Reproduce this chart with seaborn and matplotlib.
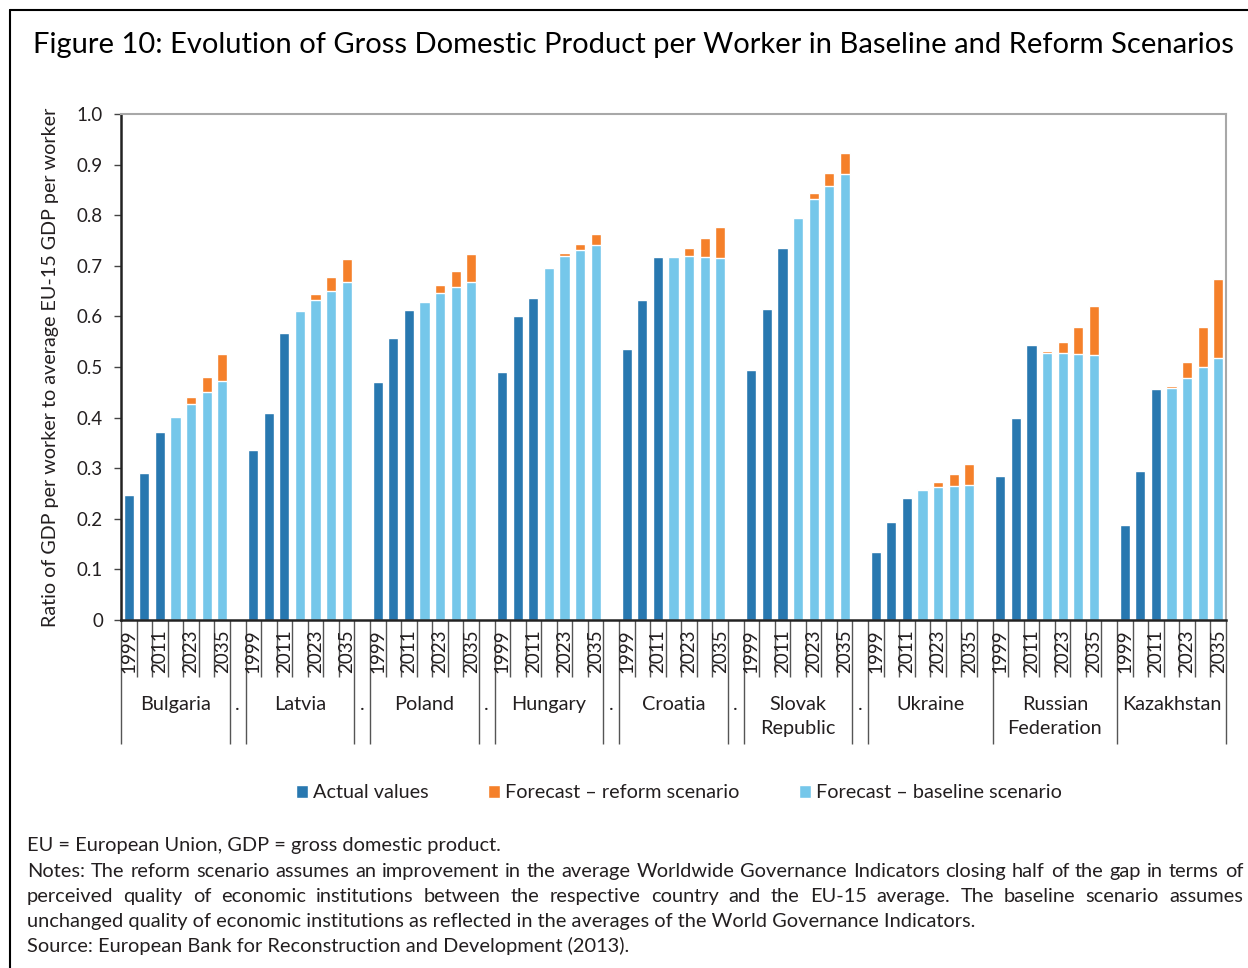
import numpy as np
import pandas as pd
import matplotlib
matplotlib.use("Agg")
import matplotlib.pyplot as plt
import seaborn as sns
from matplotlib.transforms import offset_copy
from matplotlib.lines import Line2D

# ---------------- data ----------------
countries = ["Bulgaria", "Latvia", "Poland", "Hungary", "Croatia",
             "Slovak\nRepublic", "Ukraine", "Russian\nFederation", "Kazakhstan"]
# slot after each country: "." labelled spacer, "" spacer merged in group, None = no spacer
gap_after = [".", ".", ".", ".", ".", ".", "", "", None]
years = [1999, 2005, 2011, 2017, 2023, 2029, 2035]
year_labels = ["1999", "", "2011", "", "2023", "", "2035"]
actual_years = [1999, 2005, 2011]
forecast_years = [2017, 2023, 2029, 2035]

actual_values = [
    [0.248, 0.290, 0.371],
    [0.336, 0.409, 0.567],
    [0.470, 0.557, 0.613],
    [0.491, 0.600, 0.636],
    [0.535, 0.632, 0.718],
    [0.494, 0.615, 0.735],
    [0.134, 0.193, 0.242],
    [0.284, 0.399, 0.544],
    [0.187, 0.294, 0.456],
]
baseline_values = [
    [0.401, 0.426, 0.450, 0.472],
    [0.610, 0.633, 0.651, 0.668],
    [0.628, 0.647, 0.658, 0.667],
    [0.695, 0.719, 0.731, 0.742],
    [0.718, 0.720, 0.717, 0.715],
    [0.794, 0.833, 0.857, 0.881],
    [0.256, 0.262, 0.265, 0.267],
    [0.528, 0.527, 0.525, 0.523],
    [0.459, 0.478, 0.500, 0.518],
]
reform_values = [
    [0.403, 0.441, 0.480, 0.525],
    [0.612, 0.644, 0.677, 0.713],
    [0.630, 0.662, 0.690, 0.724],
    [0.698, 0.726, 0.744, 0.762],
    [0.720, 0.735, 0.754, 0.777],
    [0.797, 0.844, 0.883, 0.922],
    [0.258, 0.273, 0.289, 0.308],
    [0.531, 0.550, 0.580, 0.620],
    [0.462, 0.509, 0.580, 0.673],
]
y_ticks = [0.0, 0.1, 0.2, 0.3, 0.4, 0.5, 0.6, 0.7, 0.8, 0.9, 1.0]
y_tick_labels = ["0", "0.1", "0.2", "0.3", "0.4", "0.5", "0.6", "0.7", "0.8", "0.9", "1.0"]

S_ACT = "Actual values"
S_REF = "Forecast \u2013 reform scenario"
S_BAS = "Forecast \u2013 baseline scenario"

title = "Figure 10: Evolution of Gross Domestic Product per Worker in Baseline and Reform Scenarios"
ylabel = "Ratio of GDP per worker to average EU-15 GDP per worker"
note_lines = [
    "EU = European Union, GDP = gross domestic product.",
    "Notes: The reform scenario assumes an improvement in the average Worldwide Governance Indicators closing half of the gap in terms of",
    "perceived quality of economic institutions between the respective country and the EU-15 average. The baseline scenario assumes",
    "unchanged quality of economic institutions as reflected in the averages of the World Governance Indicators.",
    "Source: European Bank for Reconstruction and Development (2013).",
]
justify = [False, True, True, False, False]

# ---------------- build slots ----------------
slots, groups = [], []
for i, c in enumerate(countries):
    start = len(slots)
    for y in years:
        slots.append(f"{c}|{y}")
    g = gap_after[i]
    if g is None:
        groups.append((c, start, len(slots) - 1))
    elif g == "":
        slots.append(f"gap{i}")
        groups.append((c, start, len(slots) - 1))
    else:
        groups.append((c, start, len(slots) - 1))
        slots.append(f"gap{i}")
        groups.append((g, len(slots) - 1, len(slots) - 1))

rows = []
for i, c in enumerate(countries):
    for y, v in zip(actual_years, actual_values[i]):
        rows.append(dict(slot=f"{c}|{y}", series=S_ACT, value=v))
    for y, b, r in zip(forecast_years, baseline_values[i], reform_values[i]):
        rows.append(dict(slot=f"{c}|{y}", series=S_BAS, value=b))
        rows.append(dict(slot=f"{c}|{y}", series=S_REF, value=r))
df = pd.DataFrame(rows)

# ---------------- style ----------------
sns.set_style("white")
plt.rcParams["font.family"] = ["Lato", "DejaVu Sans"]
TXT = "#231F20"
DARK = "#2878B0"
LIGHT = "#75C7EA"
ORANGE = "#F5802A"

W, H = 1248, 968
fig = plt.figure(figsize=(W / 100, H / 100), dpi=100)
ax = fig.add_axes([121 / W, 1 - 620 / H, (1226 - 121) / W, (620 - 114) / H])

for name, color in [(S_REF, ORANGE), (S_BAS, LIGHT), (S_ACT, DARK)]:
    sns.barplot(data=df[df.series == name], x="slot", y="value", order=slots,
                color=color, saturation=1, width=0.65, errorbar=None,
                label=name, ax=ax)
if ax.get_legend() is not None:
    ax.get_legend().remove()

ax.set_xlim(-0.5, len(slots) - 0.5)
ax.set_ylim(0, 1)
ax.set_yticks(y_ticks)
ax.set_yticklabels(y_tick_labels)
ax.set_xlabel("")
ax.set_ylabel(ylabel, fontsize=14.2, color=TXT, labelpad=13)
ax.tick_params(axis="y", direction="out", length=5, width=1, color="#444444",
               labelsize=13.5, labelcolor=TXT, pad=8, left=True)

# x axis ticks: long separators (major) and short slot ticks (minor)
seps = sorted({g[1] - 0.5 for g in groups} | {g[2] + 0.5 for g in groups})
ax.set_xticks(seps)
ax.set_xticks(np.arange(-0.5, len(slots)), minor=True)
ax.tick_params(axis="x", which="major", direction="out", length=89, width=1,
               color="#555555", labelbottom=False, bottom=True)
ax.tick_params(axis="x", which="minor", direction="out", length=41, width=1,
               color="#555555", labelbottom=False, bottom=True)

for side in ["left", "bottom"]:
    ax.spines[side].set_color("#222222")
    ax.spines[side].set_linewidth(1.8)
for side in ["top", "right"]:
    ax.spines[side].set_color("#A8A8A8")
    ax.spines[side].set_linewidth(1.5)

# year labels
t_year = offset_copy(ax.get_xaxis_transform(), fig=fig, y=-7, units="points")
for i, c in enumerate(countries):
    for k, lab in enumerate(year_labels):
        if lab:
            ax.text(slots.index(f"{c}|{years[k]}"), 0, lab, transform=t_year,
                    rotation=90, ha="center", va="top", fontsize=13.5, color=TXT)

# group labels
t_grp = offset_copy(ax.get_xaxis_transform(), fig=fig, y=-55, units="points")
for lab, s, e in groups:
    ax.text((s + e) / 2, 0, lab, transform=t_grp, ha="center", va="top",
            fontsize=14.3, color=TXT, linespacing=1.45, multialignment="center")

# legend
h, l = ax.get_legend_handles_labels()
hd = dict(zip(l, h))
order = [S_ACT, S_REF, S_BAS]
fig.legend([hd[k] for k in order], order, loc="center",
           bbox_to_anchor=(679 / W, 1 - 793 / H), ncol=3, frameon=False,
           fontsize=14.3, handlelength=0.6, handleheight=0.6,
           handletextpad=0.25, columnspacing=3.0, labelcolor=TXT)

# title
fig.text(33 / W, 1 - 45 / H, title, fontsize=21, color="black",
         ha="left", va="center")

# frame lines
fig.add_artist(Line2D([10 / W, 1.0], [1 - 10 / H, 1 - 10 / H],
                      transform=fig.transFigure, color="black", lw=1.5))
fig.add_artist(Line2D([10 / W, 10 / W], [0, 1 - 10 / H],
                      transform=fig.transFigure, color="black", lw=1.5))

# notes (baseline aligned, lines 2-3 justified)
renderer = fig.canvas.get_renderer()
x0, x1 = 27, 1243
ys = [851, 877, 902, 927, 952]
NFS = 14.4
for line, yy, jus in zip(note_lines, ys, justify):
    yf = 1 - yy / H
    if not jus:
        fig.text(x0 / W, yf, line, fontsize=NFS, color=TXT, ha="left", va="baseline")
        continue
    words = line.split(" ")
    ts = [fig.text(0, yf, w, fontsize=NFS, color=TXT, ha="left", va="baseline")
          for w in words]
    widths = [t.get_window_extent(renderer).width for t in ts]
    gap = ((x1 - x0) - sum(widths)) / (len(words) - 1)
    x = x0
    for t, wd in zip(ts, widths):
        t.set_x(x / W)
        x += wd + gap

fig.savefig("out.png", dpi=100)
